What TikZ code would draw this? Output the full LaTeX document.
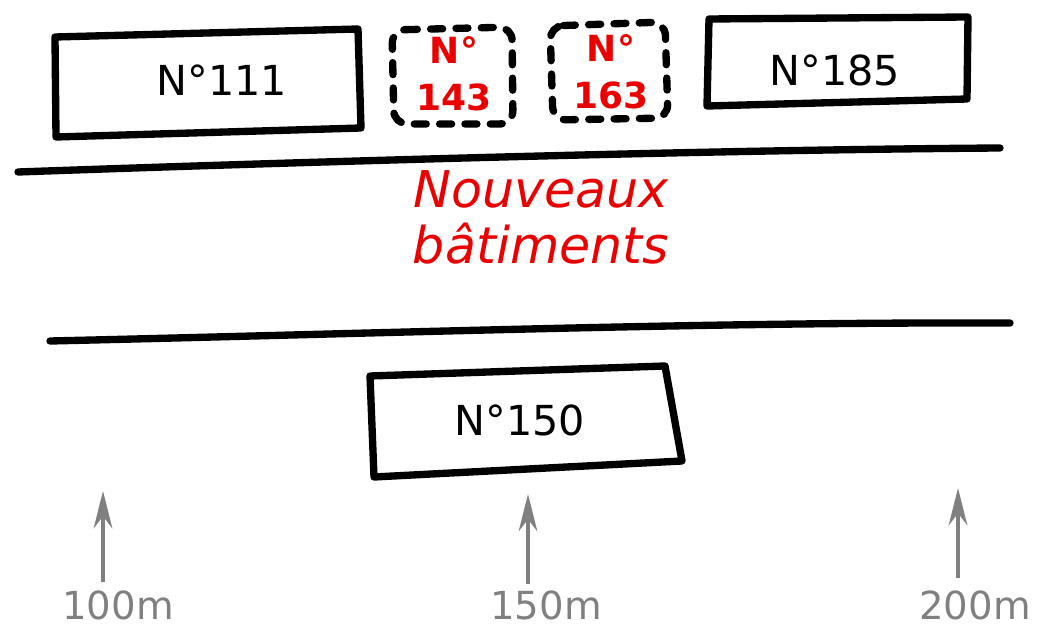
\documentclass[tikz,border=0pt]{standalone}
\usepackage{fontspec}
\setmainfont{DejaVu Sans}
\usetikzlibrary{arrows.meta}
\definecolor{tred}{RGB}{235,0,0}
\definecolor{tgray}{RGB}{128,128,128}
\tikzset{
  bld/.style={draw=black,line width=5.5pt,line join=round,line cap=round},
  newbld/.style={draw=black,line width=5.5pt,line cap=round,dash pattern=on 9pt off 10pt,rounded corners=10pt},
  road/.style={draw=black,line width=5.5pt,line cap=round},
  lbl/.style={font=\fontsize{31}{34}\selectfont,text=black},
  rlbl/.style={font=\fontsize{27}{35}\selectfont\bfseries,text=tred,align=center},
  big/.style={font=\fontsize{38}{42}\selectfont\itshape,text=tred,align=center},
  distarrow/.style={draw=tgray,line width=3pt,-{Stealth[length=28pt,width=14pt]}},
  mlbl/.style={font=\fontsize{29}{32}\selectfont,text=tgray}
}
\begin{document}
\begin{tikzpicture}[x=0.75pt,y=-0.75pt]
\useasboundingbox (0,0) rectangle (1043,630);
% buildings
\draw[bld] (55,37) -- (358,29) -- (361,128) -- (56,137) -- cycle;
\node[lbl] (b111) at (222,80) {N°111};
\draw[newbld] (392,30) -- (512,27) -- (513,124) -- (394,124) -- cycle;
\node[rlbl] (b143) at (454,74) {N°\\143};
\draw[newbld] (550,26) -- (665,22) -- (668,118) -- (553,120) -- cycle;
\node[rlbl] (b163) at (611,72) {N°\\163};
\draw[bld] (709,19) -- (968,17) -- (967,99) -- (707,106) -- cycle;
\node[lbl] (b185) at (835,70) {N°185};
\draw[bld] (370,376) -- (665,366) -- (682,461) -- (374,477) -- cycle;
\node[lbl] (b150) at (520,420) {N°150};
% roads
\draw[road] (18,172) .. controls (300,162) and (700,150) .. (1000,148);
\draw[road] (50,341) .. controls (400,333) and (700,322) .. (1010,323);
\node[big] (nb) at (541,217) {Nouveaux\\bâtiments};
% distance markers
\coordinate (s1) at (103,582);
\coordinate (e1) at (103,491);
\coordinate (s2) at (528,584);
\coordinate (e2) at (528,494);
\coordinate (s3) at (958,578);
\coordinate (e3) at (958,488);
\draw[distarrow] (s1) -- (e1);
\draw[distarrow] (s2) -- (e2);
\draw[distarrow] (s3) -- (e3);
\node[mlbl] (m1) at (118,605) {100m};
\node[mlbl] (m2) at (546,605) {150m};
\node[mlbl] (m3) at (975,605) {200m};
\end{tikzpicture}
\end{document}
